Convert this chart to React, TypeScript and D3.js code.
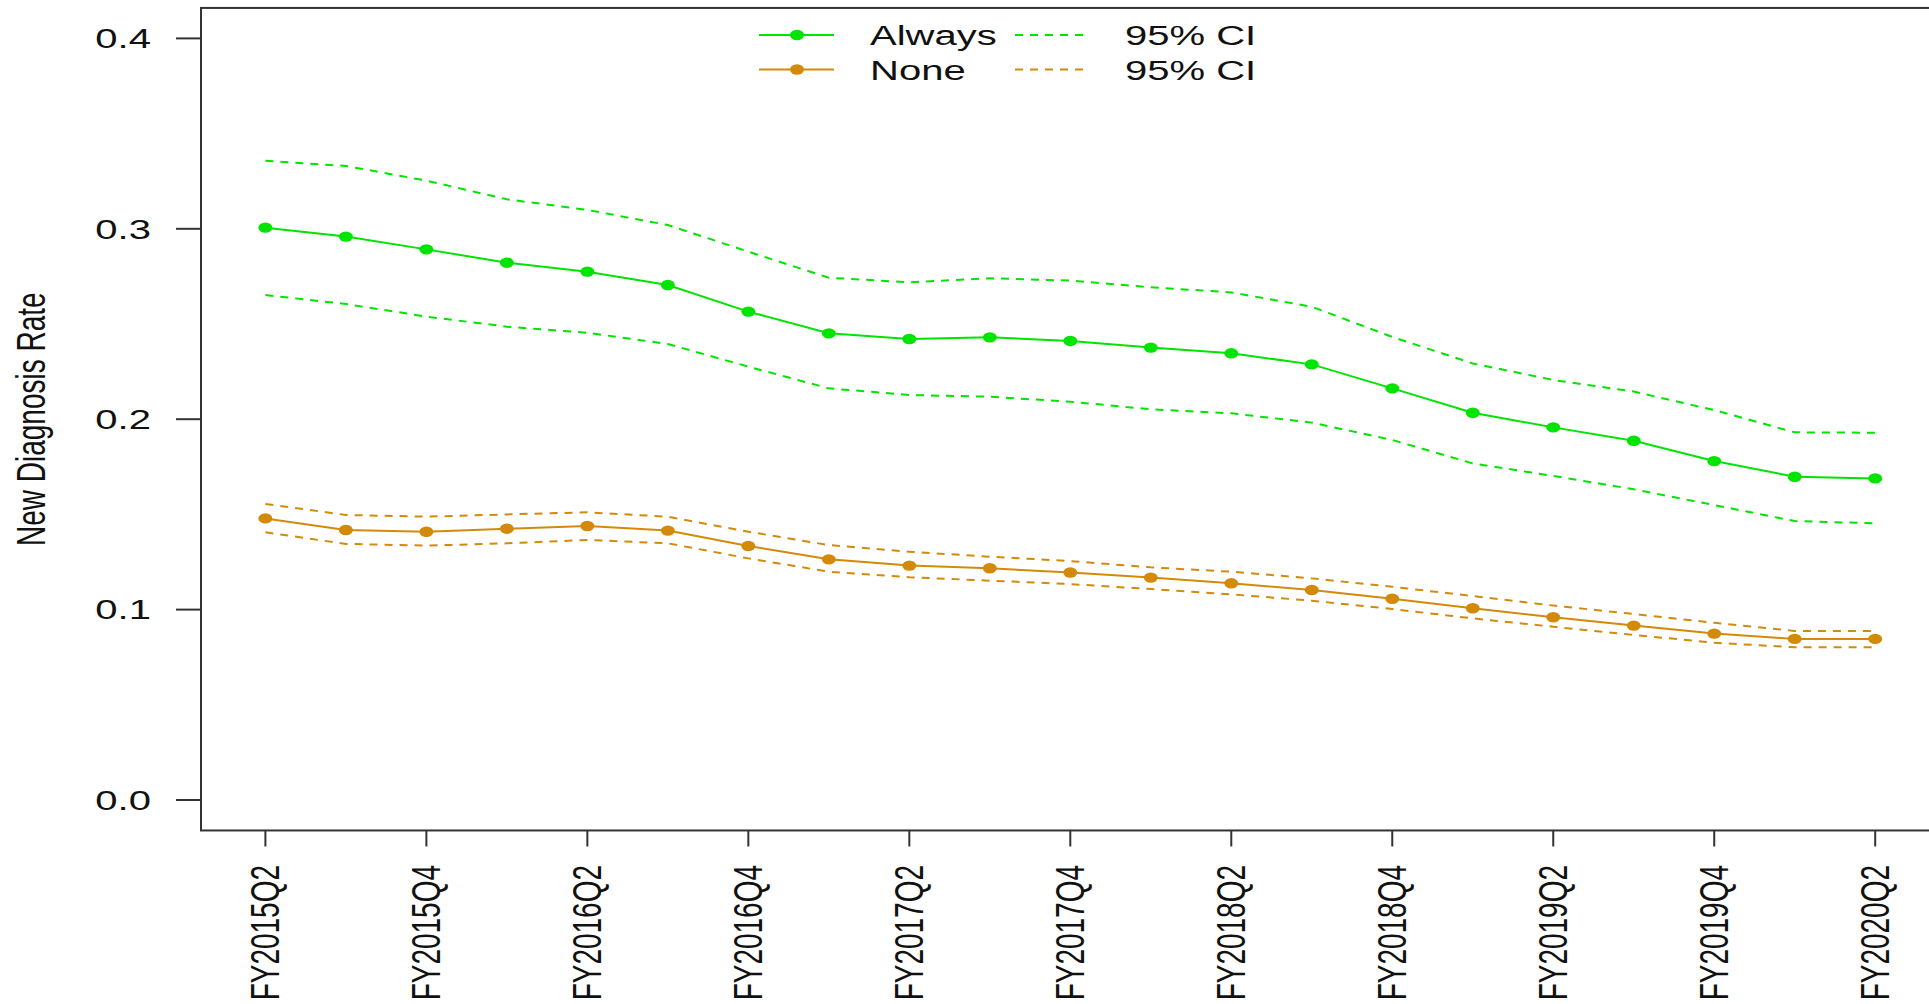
import React from "react";
import * as d3 from "d3";

// Quarterly categories (fiscal years)
const quarters: string[] = [
  "FY2015Q2", "FY2015Q3", "FY2015Q4", "FY2016Q1", "FY2016Q2", "FY2016Q3", "FY2016Q4",
  "FY2017Q1", "FY2017Q2", "FY2017Q3", "FY2017Q4", "FY2018Q1", "FY2018Q2", "FY2018Q3",
  "FY2018Q4", "FY2019Q1", "FY2019Q2", "FY2019Q3", "FY2019Q4", "FY2020Q1", "FY2020Q2",
];

// "Always" group: estimate and 95% CI bounds
const alwaysRate: number[] = [
  0.3006, 0.2959, 0.2892, 0.2822, 0.2775, 0.2705, 0.2565, 0.2451, 0.2421, 0.2430, 0.2411,
  0.2376, 0.2346, 0.2288, 0.2162, 0.2034, 0.1957, 0.1887, 0.1780, 0.1698, 0.1689,
];
const alwaysUpper: number[] = [
  0.3357, 0.3330, 0.3253, 0.3155, 0.3099, 0.3020, 0.2880, 0.2743, 0.2719, 0.2740, 0.2728,
  0.2693, 0.2666, 0.2591, 0.2432, 0.2293, 0.2206, 0.2145, 0.2048, 0.1931, 0.1929,
];
const alwaysLower: number[] = [
  0.2652, 0.2605, 0.2539, 0.2486, 0.2454, 0.2395, 0.2276, 0.2162, 0.2127, 0.2118, 0.2092,
  0.2052, 0.2031, 0.1982, 0.1891, 0.1768, 0.1702, 0.1632, 0.1549, 0.1465, 0.1453,
];

// "None" group: estimate and 95% CI bounds
const noneRate: number[] = [
  0.1479, 0.1418, 0.1409, 0.1425, 0.1439, 0.1415, 0.1334, 0.1264, 0.1231, 0.1217, 0.1195,
  0.1168, 0.1138, 0.1103, 0.1057, 0.1007, 0.0960, 0.0916, 0.0874, 0.0846, 0.0846,
];
const noneUpper: number[] = [
  0.1555, 0.1497, 0.1488, 0.1500, 0.1511, 0.1488, 0.1409, 0.1339, 0.1304, 0.1278, 0.1255,
  0.1222, 0.1199, 0.1164, 0.1120, 0.1071, 0.1021, 0.0977, 0.0931, 0.0888, 0.0888,
];
const noneLower: number[] = [
  0.1406, 0.1345, 0.1336, 0.1348, 0.1366, 0.1348, 0.1269, 0.1199, 0.1170, 0.1152, 0.1134,
  0.1108, 0.1080, 0.1047, 0.1003, 0.0954, 0.0910, 0.0867, 0.0826, 0.0802, 0.0802,
];

const yTicks: number[] = [0.0, 0.1, 0.2, 0.3, 0.4];
const legendLabels: string[] = ["Always", "None"];
const ciLabel = "95% CI";
const yTitle = "New Diagnosis Rate";

const GREEN = "#00e400";
const ORANGE = "#d38a0b";
const AXIS = "#333333";
const TEXT = "#111111";
const FONT = "'Liberation Sans', Arial, Helvetica, sans-serif";
const FS = 28;
const SX = 1.43; // horizontal stretch applied to all lettering
const W = 1929;
const H = 1004;

export default function App() {
  const n = quarters.length;
  const x = d3.scaleLinear().domain([1 - 0.04 * (n - 1), n + 0.04 * (n - 1)]).range([201, 1939.6]);
  const y = d3.scaleLinear().domain([0, 0.4]).range([800, 38.4]);
  const yBox = [y(-0.016), y(0.416)];

  const line = (vals: number[]) =>
    d3.line<number>().x((_, i) => x(i + 1)).y((v) => y(v))(vals) || "";

  const series = [
    { color: GREEN, rate: alwaysRate, upper: alwaysUpper, lower: alwaysLower },
    { color: ORANGE, rate: noneRate, upper: noneUpper, lower: noneLower },
  ];

  const xLabelIdx = quarters.map((_, i) => i).filter((i) => i % 2 === 0);
  const dash = "8 7";
  const RX = 7;
  const RY = 5.2;

  return (
    <svg
      width={W}
      height={H}
      style={{ position: "absolute", left: 0, top: 0, display: "block", background: "#fff" }}
      fontFamily={FONT}
    >
      <rect x={0} y={0} width={W} height={H} fill="#fff" />

      {/* data */}
      {series.map((s, k) => (
        <g key={k}>
          <path d={line(s.upper)} fill="none" stroke={s.color} strokeWidth={2} strokeDasharray={dash} />
          <path d={line(s.lower)} fill="none" stroke={s.color} strokeWidth={2} strokeDasharray={dash} />
          <path d={line(s.rate)} fill="none" stroke={s.color} strokeWidth={2} />
          {s.rate.map((v, i) => (
            <ellipse key={i} cx={x(i + 1)} cy={y(v)} rx={RX} ry={RY} fill={s.color} />
          ))}
        </g>
      ))}

      {/* plot frame */}
      <rect
        x={x.range()[0]}
        y={yBox[1]}
        width={x.range()[1] - x.range()[0]}
        height={yBox[0] - yBox[1]}
        fill="none"
        stroke={AXIS}
        strokeWidth={2}
      />

      {/* y axis */}
      {yTicks.map((t) => (
        <g key={t}>
          <line x1={176} x2={x.range()[0]} y1={y(t)} y2={y(t)} stroke={AXIS} strokeWidth={2} />
          <text
            transform={`translate(151,${y(t)}) scale(${SX},1)`}
            textAnchor="end"
            dominantBaseline="central"
            fontSize={FS}
            fill={TEXT}
          >
            {t.toFixed(1)}
          </text>
        </g>
      ))}
      <text
        transform={`translate(45,${(yBox[0] + yBox[1]) / 2}) rotate(-90) scale(1,${SX})`}
        textAnchor="middle"
        fontSize={FS}
        fill={TEXT}
      >
        {yTitle}
      </text>

      {/* x axis */}
      {xLabelIdx.map((i) => (
        <g key={i}>
          <line x1={x(i + 1)} x2={x(i + 1)} y1={yBox[0]} y2={yBox[0] + 16} stroke={AXIS} strokeWidth={2} />
          <text
            transform={`translate(${x(i + 1)},865) rotate(-90) scale(1,${SX})`}
            textAnchor="end"
            dominantBaseline="central"
            fontSize={FS}
            fill={TEXT}
          >
            {quarters[i]}
          </text>
        </g>
      ))}

      {/* legend */}
      {legendLabels.map((lab, k) => {
        const ly = 35 + k * 34.5;
        const c = series[k].color;
        return (
          <g key={lab}>
            <line x1={759} x2={834} y1={ly} y2={ly} stroke={c} strokeWidth={2} />
            <ellipse cx={797} cy={ly} rx={RX} ry={RY} fill={c} />
            <text transform={`translate(870,${ly + 10}) scale(${SX},1)`} fontSize={FS} fill={TEXT}>
              {lab}
            </text>
            <line x1={1015} x2={1085} y1={ly} y2={ly} stroke={c} strokeWidth={2} strokeDasharray={dash} />
            <text transform={`translate(1125,${ly + 10}) scale(${SX},1)`} fontSize={FS} fill={TEXT}>
              {ciLabel}
            </text>
          </g>
        );
      })}
    </svg>
  );
}
